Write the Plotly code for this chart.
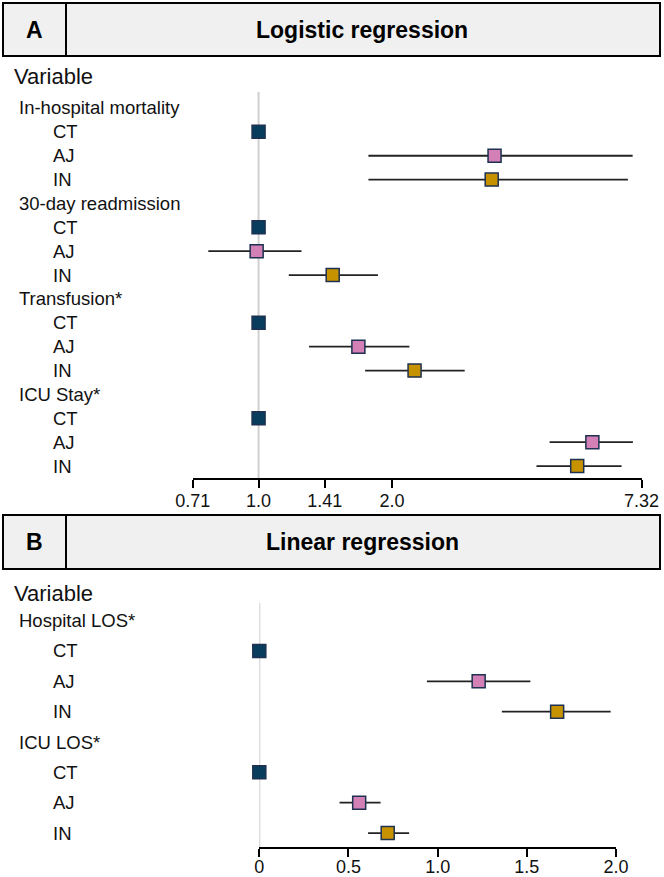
import math
import plotly.graph_objects as go

W, H = 664, 877

# ---------------- data ----------------
levels = ["CT", "AJ", "IN"]

groups_A = ["In-hospital mortality", "30-day readmission", "Transfusion*", "ICU Stay*"]
A_CT_or = [1.0, 1.0, 1.0, 1.0]
A_AJ_or = [3.41, 0.99, 1.68, 5.67]
A_AJ_lo = [1.77, 0.77, 1.30, 4.54]
A_AJ_hi = [6.99, 1.25, 2.19, 7.00]
A_IN_or = [3.36, 1.47, 2.25, 5.24]
A_IN_lo = [1.77, 1.17, 1.74, 4.24]
A_IN_hi = [6.82, 1.86, 2.92, 6.60]
A_tickvals = [0.71, 1.0, 1.41, 2.0, 7.32]
A_ticktext = ["0.71", "1.0", "1.41", "2.0", "7.32"]

groups_B = ["Hospital LOS*", "ICU LOS*"]
B_CT_est = [0.0, 0.0]
B_AJ_est = [1.23, 0.56]
B_AJ_lo = [0.94, 0.45]
B_AJ_hi = [1.52, 0.68]
B_IN_est = [1.67, 0.72]
B_IN_lo = [1.36, 0.61]
B_IN_hi = [1.97, 0.84]
B_tickvals = [0, 0.5, 1.0, 1.5, 2.0]
B_ticktext = ["0", "0.5", "1.0", "1.5", "2.0"]

colors = {"CT": "#083d5e", "AJ": "#d280b6", "IN": "#c79200"}
edge = "#1e3150"
FONT = "Liberation Sans, Arial, sans-serif"


def px(x):
    return x / W


def py(y):
    return 1 - y / H


fig = go.Figure()


def add_panel(xa, ya, est_lists, lo_lists, hi_lists, ngroups):
    for k, lev in enumerate(levels):
        est = est_lists[k]
        lo = lo_lists[k]
        hi = hi_lists[k]
        rows = [4 * g + 1 + k for g in range(ngroups)]
        fig.add_trace(go.Scatter(
            x=est, y=rows, mode="markers", xaxis=xa, yaxis=ya, cliponaxis=False,
            marker=dict(symbol="square", size=13, color=colors[lev],
                        line=dict(color=edge, width=1.5)),
            error_x=dict(type="data", symmetric=False,
                         array=[h - e for h, e in zip(hi, est)],
                         arrayminus=[e - l for e, l in zip(est, lo)],
                         color="#222222", thickness=1.8, width=0),
            showlegend=False, hoverinfo="skip",
        ))


add_panel("x", "y",
          [A_CT_or, A_AJ_or, A_IN_or],
          [A_CT_or, A_AJ_lo, A_IN_lo],
          [A_CT_or, A_AJ_hi, A_IN_hi], len(groups_A))
add_panel("x2", "y2",
          [B_CT_est, B_AJ_est, B_IN_est],
          [B_CT_est, B_AJ_lo, B_IN_lo],
          [B_CT_est, B_AJ_hi, B_IN_hi], len(groups_B))

axis_common = dict(showline=True, linecolor="black", linewidth=2,
                   ticks="outside", ticklen=8, tickwidth=2, tickcolor="black",
                   showgrid=False, zeroline=False, automargin=False,
                   tickfont=dict(size=18, color="#111111", family=FONT))

shapes = []
annotations = []

# Reference lines
shapes.append(dict(type="line", xref="x", yref="y", x0=1, x1=1, y0=-0.67, y1=15.5,
                   line=dict(color="#d0d0d0", width=2), layer="below"))
shapes.append(dict(type="line", xref="x2", yref="y2", x0=0, x1=0, y0=-0.58, y1=7.46,
                   line=dict(color="#d0d0d0", width=2), layer="below"))

# Header boxes
for (top, bot, letter, title) in [(3, 56, "A", "Logistic regression"),
                                  (515, 569, "B", "Linear regression")]:
    shapes.append(dict(type="rect", xref="paper", yref="paper",
                       x0=px(3), x1=px(660), y0=py(bot), y1=py(top),
                       fillcolor="#f0f0f0", line=dict(color="black", width=2), layer="below"))
    shapes.append(dict(type="line", xref="paper", yref="paper",
                       x0=px(66), x1=px(66), y0=py(bot), y1=py(top),
                       line=dict(color="black", width=2)))
    mid = (top + bot) / 2
    annotations.append(dict(text="<b>%s</b>" % letter, xref="paper", yref="paper",
                            x=px(34.5), y=py(mid), xanchor="center", yanchor="middle",
                            showarrow=False, font=dict(size=23, color="black", family=FONT)))
    annotations.append(dict(text="<b>%s</b>" % title, xref="paper", yref="paper",
                            x=px(362), y=py(mid), xanchor="center", yanchor="middle",
                            showarrow=False, font=dict(size=23, color="black", family=FONT)))

# "Variable" headers
for yv in [77, 593]:
    annotations.append(dict(text="Variable", xref="paper", yref="paper",
                            x=px(12), y=py(yv), xanchor="left", yanchor="middle",
                            showarrow=False, font=dict(size=22, color="#111111", family=FONT)))

# Row labels
for (groups, yref) in [(groups_A, "y"), (groups_B, "y2")]:
    for g, name in enumerate(groups):
        annotations.append(dict(text=name, xref="paper", yref=yref, x=px(17), y=4 * g,
                                xanchor="left", yanchor="middle", showarrow=False,
                                font=dict(size=18.5, color="#111111", family=FONT)))
        for k, lev in enumerate(levels):
            annotations.append(dict(text=lev, xref="paper", yref=yref, x=px(51),
                                    y=4 * g + 1 + k, xanchor="left", yanchor="middle",
                                    showarrow=False,
                                    font=dict(size=18.5, color="#111111", family=FONT)))

fig.update_layout(
    template="none",
    width=W, height=H, margin=dict(l=0, r=0, t=0, b=0, pad=0, autoexpand=False),
    paper_bgcolor="white", plot_bgcolor="white", showlegend=False,
    font=dict(family=FONT, color="#111111"),
    xaxis=dict(type="log", range=[math.log10(0.71), math.log10(7.32)],
               domain=[px(192.7), px(641.5)], anchor="y", ticklabelstandoff=-3,
               tickvals=A_tickvals, ticktext=A_ticktext, **axis_common),
    yaxis=dict(domain=[py(478), py(92)], range=[15.5, -0.67], visible=False,
               anchor="x", automargin=False),
    xaxis2=dict(range=[0, 2], domain=[px(259.3), px(616)], anchor="y2",
                ticklabelstandoff=-6,
                tickvals=B_tickvals, ticktext=B_ticktext, **axis_common),
    yaxis2=dict(domain=[py(847), py(603)], range=[7.46, -0.58], visible=False,
                anchor="x2", automargin=False),
    shapes=shapes, annotations=annotations,
)

fig.write_html(
    "out.html",
    config={"displayModeBar": False},
    post_script="document.body.style.margin='0';document.body.style.padding='0';"
                "document.body.style.overflow='hidden';",
)
